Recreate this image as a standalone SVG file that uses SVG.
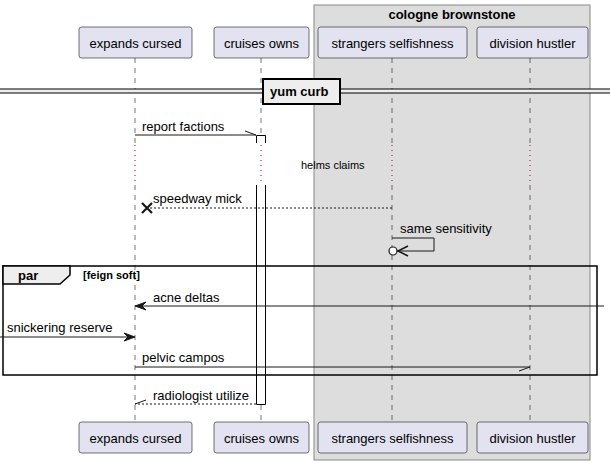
<svg xmlns="http://www.w3.org/2000/svg" width="610" height="463" viewBox="0 0 610 463">
<style>
text{font-family:"Liberation Sans",Arial,sans-serif;font-size:13px;fill:#000}
.b{font-weight:bold}
.pbox{fill:#E2E2F0;stroke:#181818;stroke-width:0.6}
.life{stroke:#181818;stroke-width:0.6;stroke-dasharray:5,5;fill:none}
.dly{stroke:#A80036;stroke-width:1;stroke-dasharray:1,4;fill:none}
.msg{stroke:#181818;stroke-width:1;fill:none}
.dash{stroke-dasharray:2,2}
.head{fill:#181818;stroke:#181818;stroke-width:1}
.act{stroke:#000;stroke-width:1;fill:none}
</style>
<rect width="610" height="463" fill="#FFFFFF"/>
<g id="group-cologne-brownstone">
<rect x="314" y="5" width="276" height="455" fill="#DDDDDD" stroke="#888888" stroke-width="1"/>
<text class="b" x="452" y="19" text-anchor="middle">cologne brownstone</text>
</g>
<g id="lifelines">
<line class="life" x1="135" y1="58" x2="135" y2="143"/>
<line class="life" x1="135" y1="185" x2="135" y2="422"/>
<line class="life" x1="261" y1="58" x2="261" y2="143"/>
<line class="life" x1="261" y1="185" x2="261" y2="422"/>
<line class="life" x1="392" y1="58" x2="392" y2="143"/>
<line class="life" x1="392" y1="185" x2="392" y2="422"/>
<line class="life" x1="530" y1="58" x2="530" y2="143"/>
<line class="life" x1="530" y1="185" x2="530" y2="422"/>
<line class="dly" x1="135" y1="145" x2="135" y2="185"/>
<line class="dly" x1="261" y1="145" x2="261" y2="185"/>
<line class="dly" x1="392" y1="145" x2="392" y2="185"/>
<line class="dly" x1="530" y1="145" x2="530" y2="185"/>
</g>
<g id="divider-yum-curb">
<rect x="0" y="89" width="610" height="4" fill="#EEEEEE" stroke="none"/>
<line x1="0" y1="89" x2="610" y2="89" stroke="#000" stroke-width="1"/>
<line x1="0" y1="93" x2="610" y2="93" stroke="#000" stroke-width="1"/>
<rect x="263" y="79" width="77" height="25" fill="#EEEEEE" stroke="#000" stroke-width="2"/>
<text class="b" x="270" y="96">yum curb</text>
</g>
<g id="activation-cruises-owns">
<rect x="256" y="135" width="10" height="8" fill="#FFFFFF" stroke="none"/>
<rect x="256" y="185" width="10" height="220" fill="#FFFFFF" stroke="none"/>
<path class="act" d="M256.5,143 V135.5 H265.5 V143"/>
<path class="act" d="M256.5,185 V404.5 H265.5 V185"/>
</g>
<g id="delay-helms-claims">
<text x="301" y="169" style="font-size:11px">helms claims</text>
</g>
<g id="fragment-par">
<rect x="3" y="266" width="594" height="109" fill="none" stroke="#000" stroke-width="1.5"/>
<path d="M3,266 H70 V275 L60,284 H3 Z" fill="#EEEEEE" stroke="#000" stroke-width="1.5"/>
<text class="b" x="18" y="280">par</text>
<text class="b" x="83" y="279" style="font-size:11px">[feign soft]</text>
</g>
<g id="connectors">
<line class="msg" x1="135" y1="135" x2="256" y2="135"/>
<line class="msg" x1="256" y1="135" x2="245" y2="131"/>
<text x="142" y="131">report factions</text>
<line class="msg dash" x1="392" y1="208" x2="147" y2="208"/>
<path d="M142,203 L152,213 M142,213 L152,203" stroke="#181818" stroke-width="2.2" fill="none"/>
<text x="153" y="203">speedway mick</text>
<polyline class="msg" points="392,238 434,238 434,251 397,251"/>
<path d="M408,246 L398,251 L408,256" stroke="#181818" stroke-width="1.5" fill="none"/>
<circle cx="393" cy="251" r="4" fill="#FFFFFF" stroke="#181818" stroke-width="1.2"/>
<text x="400" y="233">same sensitivity</text>
<line class="msg" x1="604" y1="306" x2="136" y2="306"/>
<polygon class="head" points="135,306 146,302 142,306 146,310"/>
<text x="153" y="302">acne deltas</text>
<line class="msg" x1="0" y1="337" x2="134" y2="337"/>
<polygon class="head" points="135,337 124,333 128,337 124,341"/>
<text x="7" y="332">snickering reserve</text>
<line class="msg" x1="135" y1="367" x2="530" y2="367"/>
<line class="msg" x1="530" y1="367" x2="519" y2="371"/>
<text x="142" y="362">pelvic campos</text>
<line class="msg dash" x1="256" y1="404" x2="135" y2="404"/>
<line class="msg" x1="135" y1="404" x2="146" y2="400"/>
<text x="153" y="400">radiologist utilize</text>
</g>
<g id="p-expands-cursed">
<rect class="pbox" x="79" y="27" width="113" height="31" rx="2.5"/>
<text x="135.5" y="48" text-anchor="middle">expands cursed</text>
<rect class="pbox" x="79" y="422" width="113" height="31" rx="2.5"/>
<text x="135.5" y="443" text-anchor="middle">expands cursed</text>
</g>
<g id="p-cruises-owns">
<rect class="pbox" x="214" y="27" width="95" height="31" rx="2.5"/>
<text x="261.5" y="48" text-anchor="middle">cruises owns</text>
<rect class="pbox" x="214" y="422" width="95" height="31" rx="2.5"/>
<text x="261.5" y="443" text-anchor="middle">cruises owns</text>
</g>
<g id="p-strangers-selfishness">
<rect class="pbox" x="318" y="27" width="149" height="31" rx="2.5"/>
<text x="392.5" y="48" text-anchor="middle">strangers selfishness</text>
<rect class="pbox" x="318" y="422" width="149" height="31" rx="2.5"/>
<text x="392.5" y="443" text-anchor="middle">strangers selfishness</text>
</g>
<g id="p-division-hustler">
<rect class="pbox" x="477" y="27" width="111" height="31" rx="2.5"/>
<text x="532.5" y="48" text-anchor="middle">division hustler</text>
<rect class="pbox" x="477" y="422" width="111" height="31" rx="2.5"/>
<text x="532.5" y="443" text-anchor="middle">division hustler</text>
</g>
</svg>
